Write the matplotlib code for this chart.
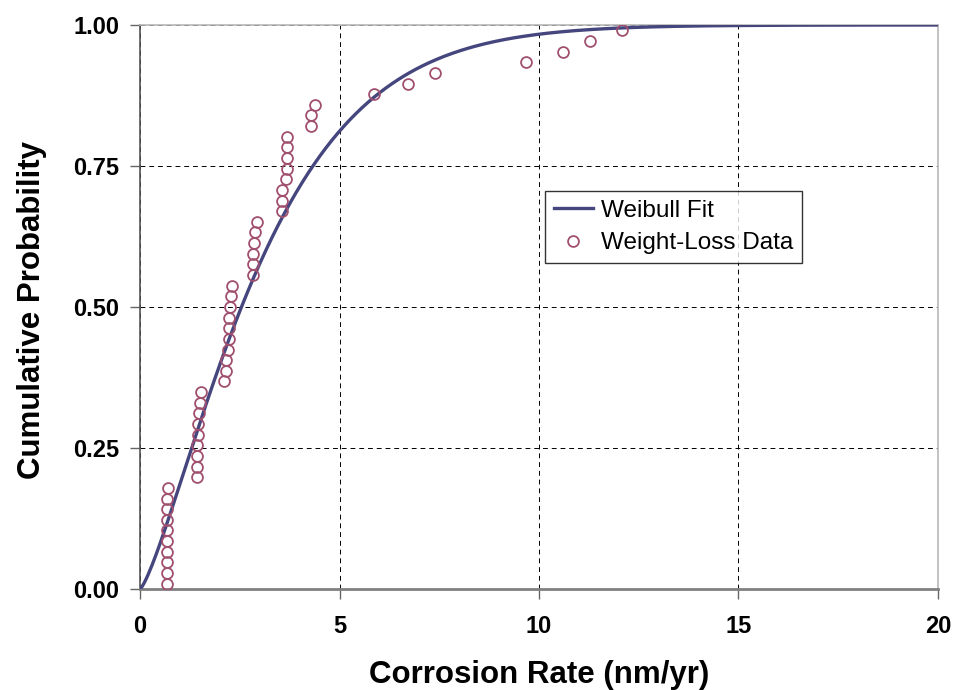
import numpy as np
import matplotlib.pyplot as plt

plt.rcParams['font.family'] = ['Liberation Sans', 'DejaVu Sans']

# measured corrosion rates (nm/yr), sorted
rates = [0.68, 0.68, 0.68, 0.68, 0.68, 0.68, 0.68, 0.68, 0.68, 0.70,
         1.42, 1.42, 1.44, 1.44, 1.46, 1.46, 1.48, 1.50, 1.52,
         2.11, 2.16, 2.16, 2.21, 2.23, 2.23, 2.23, 2.26, 2.28, 2.31,
         2.84, 2.84, 2.84, 2.86, 2.88, 2.94,
         3.55, 3.55, 3.55, 3.66, 3.68, 3.68, 3.68, 3.69,
         4.28, 4.28, 4.39,
         5.86, 6.72, 7.39, 9.67, 10.59, 11.29, 12.09]
n = len(rates)
ranks = np.arange(1, n + 1)
probs = (ranks - 0.5) / n

# Weibull fit parameters
shape_k = 1.30
scale_lam = 3.37

x_fit = np.linspace(0, 20, 400)
y_fit = 1 - np.exp(-(x_fit / scale_lam) ** shape_k)

fig = plt.figure(figsize=(9.54, 6.90), dpi=100)
ax = fig.add_axes([0.1468, 0.1464, 0.8364, 0.8174])

ax.plot(x_fit, y_fit, color='#46467f', lw=2.4, label='Weibull Fit', zorder=3)
ax.plot(rates, probs, 'o', mfc='none', mec='#a0506e', ms=7.8, mew=1.3,
        label='Weight-Loss Data', zorder=4)

ax.set_xlim(0, 20)
ax.set_ylim(0, 1)
ax.set_xticks([0, 5, 10, 15, 20])
ax.set_yticks([0, 0.25, 0.5, 0.75, 1.0])
ax.set_yticklabels(['0.00', '0.25', '0.50', '0.75', '1.00'])
ax.grid(True, color='black', ls=(0, (5, 4)), lw=0.7)

for s in ['left', 'bottom']:
    ax.spines[s].set_color('#808080')
ax.spines['bottom'].set_linewidth(2)
ax.spines['left'].set_linewidth(1.2)
ax.spines['left'].set_color('#555555')
for s in ['top', 'right']:
    ax.spines[s].set_color('#b8b8b8')
    ax.spines[s].set_linewidth(1.2)

ax.tick_params(axis='both', direction='out', length=7, color='#666666',
               labelsize=17, width=1)
ax.tick_params(axis='x', pad=12)
ax.tick_params(axis='y', pad=8)
for lab in ax.get_xticklabels() + ax.get_yticklabels():
    lab.set_fontweight('bold')

ax.set_xlabel('Corrosion Rate (nm/yr)', fontsize=22.5, fontweight='bold')
ax.xaxis.set_label_coords(0.5, -0.152)
ax.xaxis.label.set_va('center')
ax.set_ylabel('Cumulative Probability', fontsize=22.5, fontweight='bold')
ax.yaxis.set_label_coords(-0.136, 0.495)
ax.yaxis.label.set_va('center')

leg = ax.legend(loc='upper left', bbox_to_anchor=(0.508, 0.705), fontsize=17.5,
                frameon=True, fancybox=False, edgecolor='black',
                handlelength=1.6, handletextpad=0.35, borderpad=0.35,
                labelspacing=0.42, borderaxespad=0)
leg.get_frame().set_linewidth(1.0)

fig.savefig('out.png', dpi=100)
